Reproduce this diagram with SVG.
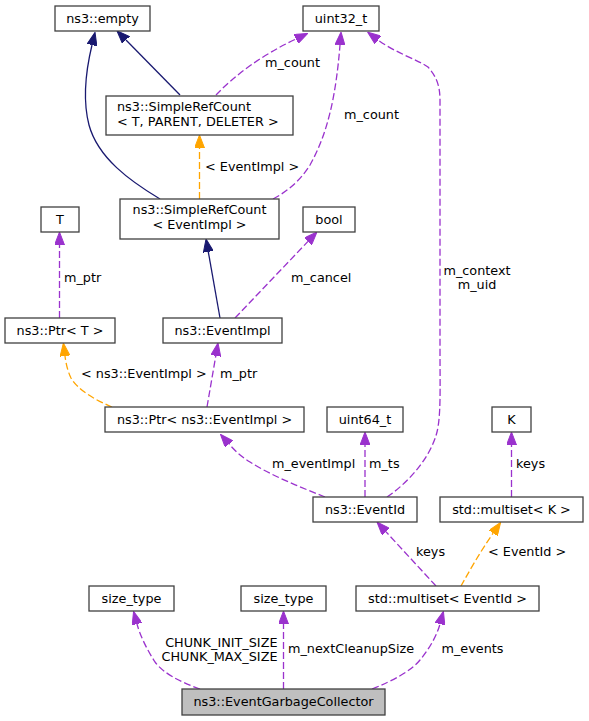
<svg xmlns="http://www.w3.org/2000/svg" width="589" height="721" viewBox="0 0 589 721">
<style>
.n rect{fill:#ffffff;stroke:#404040;stroke-width:1.3}
.n.root rect{fill:#bfbfbf}
text{font-family:"DejaVu Sans","Liberation Sans",sans-serif;font-size:12.8px;fill:#000000}
.c{text-anchor:middle}
.e path{fill:none;stroke-width:1.3}
.inh{stroke:#191970}
.use{stroke:#9a32cd;stroke-dasharray:7,3}
.tpl{stroke:#ffa500;stroke-dasharray:7,3}
</style>
<defs>
<marker id="aN" viewBox="0 0 13 10" refX="0" refY="5" markerWidth="13" markerHeight="10" markerUnits="userSpaceOnUse" orient="auto"><path d="M0,0 L13,5 L0,10 Z" fill="#191970" stroke="#191970" stroke-width="1"/></marker>
<marker id="aP" viewBox="0 0 13 10" refX="0" refY="5" markerWidth="13" markerHeight="10" markerUnits="userSpaceOnUse" orient="auto"><path d="M0,0 L13,5 L0,10 Z" fill="#9a32cd" stroke="#9a32cd" stroke-width="1"/></marker>
<marker id="aO" viewBox="0 0 13 10" refX="0" refY="5" markerWidth="13" markerHeight="10" markerUnits="userSpaceOnUse" orient="auto"><path d="M0,0 L13,5 L0,10 Z" fill="#ffa500" stroke="#ffa500" stroke-width="1"/></marker>
</defs>
<g id="connectors" class="e">
<path class="inh" marker-end="url(#aN)" d="M180,95 L126,40"/>
<path class="inh" marker-end="url(#aN)" d="M160,199 C130,181 98,158 89,125 C82,98 86,70 92,45"/>
<path class="use" marker-end="url(#aP)" d="M216,95 C235,75 262,55 296,39"/>
<path class="use" marker-end="url(#aP)" d="M273,199 C290,190 302,178 310,165 C328,133 336,95 340,45"/>
<path class="use" marker-end="url(#aP)" d="M387,497 C405,485 430,460 437,432 C441,415 440,390 440,350 L440,100 C440,85 436,76 428,67 C418,60 394,52 378,40"/>
<path class="tpl" marker-end="url(#aO)" d="M199.5,199 L199.5,148"/>
<path class="use" marker-end="url(#aP)" d="M59.5,318 L59.5,245"/>
<path class="inh" marker-end="url(#aN)" d="M220,318 L208.3,251.8"/>
<path class="use" marker-end="url(#aP)" d="M235,318 L308,241.4"/>
<path class="tpl" marker-end="url(#aO)" d="M112,407 C95,400 78,390 71,378 C68,372 66,364 65,356"/>
<path class="use" marker-end="url(#aP)" d="M207,407 L215.8,355.8"/>
<path class="use" marker-end="url(#aP)" d="M325,497 C300,487 270,475 250,462 C242,457 236,452 229,444"/>
<path class="use" marker-end="url(#aP)" d="M365,497 L365,445"/>
<path class="use" marker-end="url(#aP)" d="M511.5,497 L511.5,445"/>
<path class="use" marker-end="url(#aP)" d="M436,586 L385.8,531.6"/>
<path class="tpl" marker-end="url(#aO)" d="M461,586 C470,570 480,552 493.2,533.1"/>
<path class="use" marker-end="url(#aP)" d="M200,689 C180,682 163,673 155,662 C146,648 140,635 137,624"/>
<path class="use" marker-end="url(#aP)" d="M283.5,689 L283.5,624"/>
<path class="use" marker-end="url(#aP)" d="M372,689 C395,680 412,670 420,660 C430,648 437,635 440,624"/>
<text x="265" y="67">m_count</text>
<text x="344" y="119">m_count</text>
<text x="477" y="275" class="c">m_context</text>
<text x="477" y="289" class="c">m_uid</text>
<text x="205" y="171">&lt; EventImpl &gt;</text>
<text x="64" y="282">m_ptr</text>
<text x="291" y="282">m_cancel</text>
<text x="81" y="378">&lt; ns3::EventImpl &gt;</text>
<text x="220" y="378">m_ptr</text>
<text x="272" y="468">m_eventImpl</text>
<text x="369" y="468">m_ts</text>
<text x="516" y="468">keys</text>
<text x="416" y="556">keys</text>
<text x="488" y="556">&lt; EventId &gt;</text>
<text x="277.5" y="646.5" text-anchor="end">CHUNK_INIT_SIZE</text>
<text x="277.5" y="660.5" text-anchor="end">CHUNK_MAX_SIZE</text>
<text x="288" y="653">m_nextCleanupSize</text>
<text x="441.5" y="653">m_events</text>
</g>
<g id="node_empty" class="n"><rect x="55" y="6" width="95" height="25"/><text x="102.5" y="23" class="c">ns3::empty</text></g>
<g id="node_uint32" class="n"><rect x="303" y="6" width="76" height="25"/><text x="341" y="23" class="c">uint32_t</text></g>
<g id="node_src_tpd" class="n"><rect x="106" y="96" width="187" height="39"/><text x="117" y="111">ns3::SimpleRefCount</text><text x="117" y="126">&lt; T, PARENT, DELETER &gt;</text></g>
<g id="node_src_ev" class="n"><rect x="120" y="199" width="159" height="40"/><text x="199.5" y="214" class="c">ns3::SimpleRefCount</text><text x="199.5" y="229" class="c">&lt; EventImpl &gt;</text></g>
<g id="node_T" class="n"><rect x="41" y="207" width="38" height="25"/><text x="60" y="224" class="c">T</text></g>
<g id="node_bool" class="n"><rect x="303" y="207" width="52" height="25"/><text x="329" y="224" class="c">bool</text></g>
<g id="node_ptr_t" class="n"><rect x="5" y="318" width="110" height="25"/><text x="60" y="335" class="c">ns3::Ptr&lt; T &gt;</text></g>
<g id="node_eventimpl" class="n"><rect x="163" y="318" width="119" height="25"/><text x="222.5" y="335" class="c">ns3::EventImpl</text></g>
<g id="node_ptr_ev" class="n"><rect x="105" y="407" width="199" height="25"/><text x="204.5" y="424" class="c">ns3::Ptr&lt; ns3::EventImpl &gt;</text></g>
<g id="node_uint64" class="n"><rect x="327" y="407" width="76" height="25"/><text x="365" y="424" class="c">uint64_t</text></g>
<g id="node_K" class="n"><rect x="492" y="407" width="39" height="25"/><text x="511.5" y="424" class="c">K</text></g>
<g id="node_eventid" class="n"><rect x="313" y="497" width="104" height="25"/><text x="365" y="514" class="c">ns3::EventId</text></g>
<g id="node_multiset_k" class="n"><rect x="440" y="497" width="143" height="25"/><text x="511.5" y="514" class="c">std::multiset&lt; K &gt;</text></g>
<g id="node_size1" class="n"><rect x="89" y="586" width="85" height="25"/><text x="131.5" y="603" class="c">size_type</text></g>
<g id="node_size2" class="n"><rect x="241" y="586" width="85" height="25"/><text x="283.5" y="603" class="c">size_type</text></g>
<g id="node_multiset_ev" class="n"><rect x="356" y="586" width="183" height="25"/><text x="447.5" y="603" class="c">std::multiset&lt; EventId &gt;</text></g>
<g id="node_egc" class="n root"><rect x="182" y="689" width="203" height="26"/><text x="283.5" y="706" class="c">ns3::EventGarbageCollector</text></g>
</svg>
